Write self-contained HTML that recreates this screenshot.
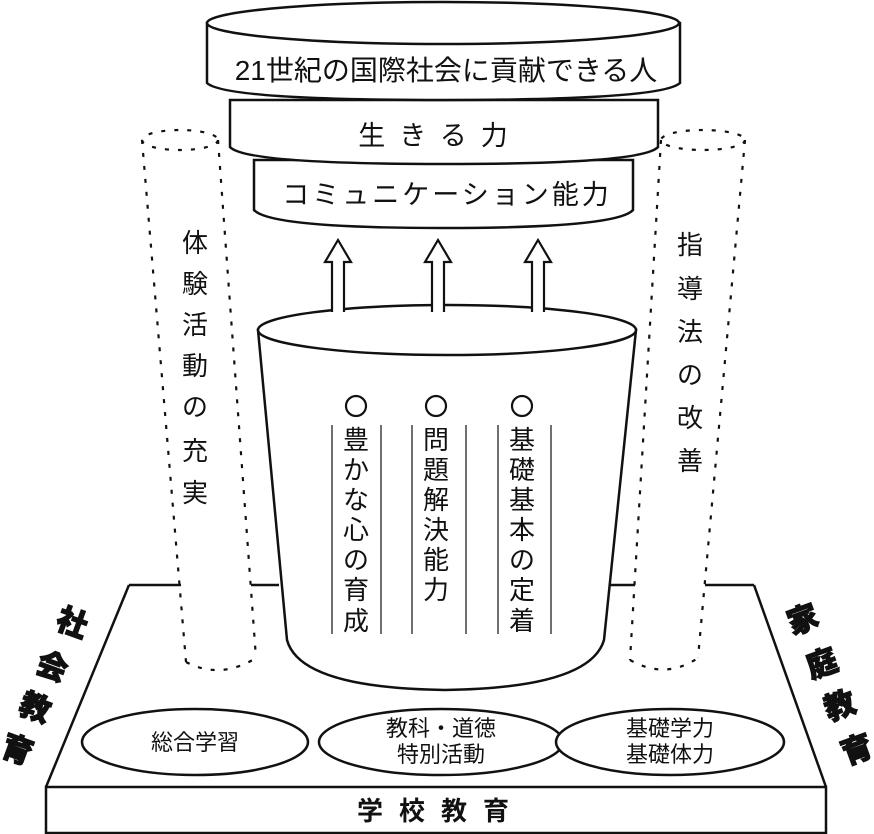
<!DOCTYPE html>
<html><head><meta charset="utf-8"><style>
html,body{margin:0;padding:0;background:#fff;}
svg{display:block;}
text{font-family:"Liberation Sans","Noto Sans CJK JP",sans-serif;fill:#111;}
</style></head><body>
<svg width="874" height="834" viewBox="0 0 874 834" xmlns="http://www.w3.org/2000/svg">
<g stroke="#111" stroke-width="2.5" fill="#fff">
<path d="M129 585 L46 787 L826 787 L754 585" fill="#fff" stroke="none"/>
<path d="M129 585 L46 787 M826 787 L754 585" fill="none"/>
<path d="M129 585 L181 585 M251 585 L279 585 M608 585 L635 585 M705 585 L754 585" fill="none"/>
<rect x="46" y="787" width="780" height="46"/>
<ellipse cx="195" cy="742" rx="113" ry="33"/>
<ellipse cx="441" cy="742" rx="122" ry="33"/>
<ellipse cx="670" cy="742" rx="114" ry="33"/>
<g fill="none" stroke-dasharray="4 9" stroke-width="2.2">
<ellipse cx="180" cy="140" rx="38" ry="10"/>
<path d="M142 140 L186 662 M218 140 L256 658"/>
<path d="M186 662 Q220 680 256 658"/>
<ellipse cx="703" cy="140" rx="42" ry="10"/>
<path d="M661 140 L630 660 M745 140 L698 658"/>
<path d="M630 660 Q665 680 698 658"/>
</g>
<path d="M258 330 L287 640 Q300 688 445 690 Q590 688 604 640 L636 330 Z"/>
<ellipse cx="447" cy="330" rx="189" ry="25"/>
<g stroke-width="1.2">
<path d="M332 425 V634 M381 425 V634 M412 425 V634 M466 425 V634 M498 425 V634 M551 425 V634"/>
</g>
<g stroke-width="2.2">
<circle cx="356" cy="406" r="10"/>
<circle cx="436" cy="406" r="10"/>
<circle cx="522" cy="406" r="10"/>
</g>
<g stroke-width="2.2">
<path d="M332 312 V262 H325 L338 240 L351 262 H344 V312"/>
<path d="M432 312 V262 H425 L438 240 L451 262 H444 V312"/>
<path d="M532 312 V262 H525 L538 240 L551 262 H544 V312"/>
</g>
<path d="M254 160 L254 210 Q270 228 443 228 Q617 228 633 210 L633 160 Z"/>
<path d="M230 100 L230 147 Q245 164 444 164 Q643 164 658 147 L658 100 Z"/>
<path d="M207 23 L207 83 Q225 100 443 100 Q662 100 680 83 L680 23 Z"/>
<ellipse cx="443" cy="23" rx="236" ry="21"/>
</g>
<g font-size="27">
<text x="446" y="80" text-anchor="middle" font-size="28">21世紀の国際社会に貢献できる人</text>
<text x="440" y="145" text-anchor="middle" letter-spacing="14">生きる力</text>
<text x="447" y="204" text-anchor="middle" letter-spacing="3">コミュニケーション能力</text>
</g>
<g font-size="26" text-anchor="middle">
<text x="195" y="252">体</text><text x="195" y="293">験</text><text x="195" y="334">活</text><text x="195" y="375">動</text><text x="195" y="416">の</text><text x="195" y="460">充</text><text x="195" y="502">実</text>
<text x="690" y="254">指</text><text x="690" y="298">導</text><text x="690" y="341">法</text><text x="690" y="384">の</text><text x="690" y="427">改</text><text x="690" y="470">善</text>
<text x="356" y="449">豊</text><text x="356" y="479">か</text><text x="356" y="509">な</text><text x="356" y="539">心</text><text x="356" y="569">の</text><text x="356" y="599">育</text><text x="356" y="630">成</text>
<text x="436" y="449">問</text><text x="436" y="479">題</text><text x="436" y="509">解</text><text x="436" y="539">決</text><text x="436" y="569">能</text><text x="436" y="599">力</text>
<text x="522" y="449">基</text><text x="522" y="479">礎</text><text x="522" y="509">基</text><text x="522" y="539">本</text><text x="522" y="569">の</text><text x="522" y="599">定</text><text x="522" y="630">着</text>
</g>
<g font-size="22" text-anchor="middle">
<text x="195" y="750">総合学習</text>
<text x="441" y="736">教科・道徳</text>
<text x="441" y="762">特別活動</text>
<text x="670" y="736">基礎学力</text>
<text x="670" y="762">基礎体力</text>
</g>
<g font-size="26" font-weight="bold" text-anchor="middle">
<text x="441" y="820" letter-spacing="16">学校教育</text>
</g>
<g font-size="31" font-weight="900" text-anchor="middle" dominant-baseline="central" stroke="#111" stroke-width="1">
<text transform="translate(72,623) rotate(20)">社</text>
<text transform="translate(52,667) rotate(20)">会</text>
<text transform="translate(35,708) rotate(20)">教</text>
<text transform="translate(17,750) rotate(20)">育</text>
<text transform="translate(803,620) rotate(-20)">家</text>
<text transform="translate(822,664) rotate(-20)">庭</text>
<text transform="translate(840,706) rotate(-20)">教</text>
<text transform="translate(857,750) rotate(-20)">育</text>
</g>
</svg>
</body></html>
